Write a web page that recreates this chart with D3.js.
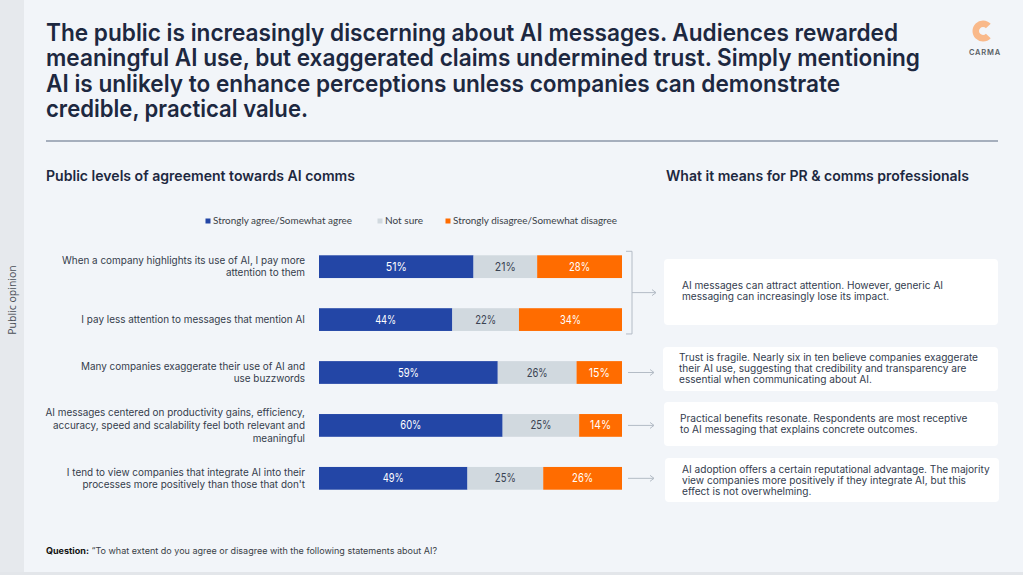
<!DOCTYPE html>
<html><head><meta charset="utf-8">
<script src="https://cdn.jsdelivr.net/npm/d3@7"></script>
<style>
html,body{margin:0;padding:0;background:#f2f5f9;}
svg{display:block;}
</style></head>
<body>
<svg id="chart" width="1023" height="575"></svg>
<script>
// ---- data ----
const titleLines = [
  "The public is increasingly discerning about AI messages. Audiences rewarded",
  "meaningful AI use, but exaggerated claims undermined trust. Simply mentioning",
  "AI is unlikely to enhance perceptions unless companies can demonstrate",
  "credible, practical value."
];
const categories = [
  ["When a company highlights its use of AI, I pay more", "attention to them"],
  ["I pay less attention to messages that mention AI"],
  ["Many companies exaggerate their use of AI and", "use buzzwords"],
  ["AI messages centered on productivity gains, efficiency,", "accuracy, speed and scalability feel both relevant and", "meaningful"],
  ["I tend to view companies that integrate AI into their", "processes more positively than those that don't"]
];
const seriesNames = ["Strongly agree/Somewhat agree", "Not sure", "Strongly disagree/Somewhat disagree"];
const agree    = [51, 44, 59, 60, 49];
const notSure  = [21, 22, 26, 25, 25];
const disagree = [28, 34, 15, 14, 26];
const insights = [
  ["AI messages can attract attention. However, generic AI", "messaging can increasingly lose its impact."],
  ["Trust is fragile. Nearly six in ten believe companies exaggerate", "their AI use, suggesting that credibility and transparency are", "essential when communicating about AI."],
  ["Practical benefits resonate. Respondents are most receptive", "to AI messaging that explains concrete outcomes."],
  ["AI adoption offers a certain reputational advantage. The majority", "view companies more positively if they integrate AI, but this", "effect is not overwhelming."]
];

// ---- setup ----
const svg = d3.select("#chart");
const W = 1023, H = 575;
const colors = ["#2346a6", "#d1d9df", "#ff6c00"];
const labelColors = ["#ffffff", "#3a4352", "#ffffff"];
const navy = "#1d2840";
const sans = "Inter, 'Noto Sans', sans-serif";

function squeeze(sel, sx) {
  sel.each(function () {
    const w = this.getComputedTextLength();
    d3.select(this).attr("textLength", w * sx).attr("lengthAdjust", "spacingAndGlyphs");
  });
}

// background
svg.append("rect").attr("width", W).attr("height", H).attr("fill", "#f2f5f9");
svg.append("rect").attr("width", 24).attr("height", H).attr("fill", "#e6e9ed");
svg.append("rect").attr("x", 0).attr("y", 572).attr("width", W).attr("height", 3).attr("fill", "#e3e6ea");

// title
const title = svg.append("g").selectAll("text").data(titleLines).join("text")
  .attr("x", 46).attr("y", (d, i) => 41 + i * 25.3)
  .attr("font-family", sans).attr("font-size", 24).attr("font-weight", 600)
  .attr("fill", navy).text(d => d);
const titleTargets = [852, 874, 794, 262];
title.each(function (d, i) {
  d3.select(this).attr("textLength", titleTargets[i]).attr("lengthAdjust", "spacingAndGlyphs");
});

// logo
const logo = svg.append("g");
logo.append("path")
  .attr("d", d3.arc()({innerRadius: 4, outerRadius: 10.5, startAngle: Math.PI * 0.5 + 0.75, endAngle: Math.PI * 2.5 - 0.75}))
  .attr("transform", "translate(983,31)")
  .attr("fill", "#f9b98a");
logo.append("text").attr("x", 985).attr("y", 55).attr("text-anchor", "middle")
  .attr("font-family", sans).attr("font-size", 7.5).attr("font-weight", 600)
  .attr("letter-spacing", 0.8).attr("fill", "#5a5f66").text("CARMA");

// rule
svg.append("line").attr("x1", 46).attr("x2", 998).attr("y1", 141).attr("y2", 141)
  .attr("stroke", "#8c97a8").attr("stroke-width", 1.6);

// section headers
svg.append("text").attr("x", 46).attr("y", 181)
  .attr("font-family", sans).attr("font-size", 14).attr("font-weight", 600).attr("fill", navy)
  .text("Public levels of agreement towards AI comms")
  .attr("textLength", 309).attr("lengthAdjust", "spacingAndGlyphs");
svg.append("text").attr("x", 666).attr("y", 181)
  .attr("font-family", sans).attr("font-size", 14).attr("font-weight", 600).attr("fill", navy)
  .text("What it means for PR & comms professionals")
  .attr("textLength", 303).attr("lengthAdjust", "spacingAndGlyphs");

// side label
svg.append("text").attr("transform", "translate(16,300) rotate(-90)")
  .attr("text-anchor", "middle").attr("font-family", "'Open Sans', sans-serif")
  .attr("font-size", 10.5).attr("fill", "#4a4f57").text("Public opinion");

// legend
const legendX = [205.5, 377.5, 445.5];
const legendTargets = [139, 38, 164];
const lg = svg.append("g").selectAll("g").data(seriesNames).join("g")
  .attr("transform", (d, i) => `translate(${legendX[i]},218.5)`);
lg.append("rect").attr("width", 5).attr("height", 5).attr("fill", (d, i) => colors[i]);
lg.append("text").attr("x", 7.5).attr("y", 5).attr("font-family", "Lato, 'Open Sans', sans-serif")
  .attr("font-size", 9).attr("fill", "#3a3f47").text(d => d)
  .each(function (d, i) { d3.select(this).attr("textLength", legendTargets[i]).attr("lengthAdjust", "spacingAndGlyphs"); });

// scales
const rows = d3.range(categories.length);
const y = d3.scaleBand().domain(rows).range([241, 504]).paddingInner(0.57).paddingOuter(0.27);
const barX0 = 319, barX1 = 622;

const stackData = rows.map(i => {
  const vals = [agree[i], notSure[i], disagree[i]];
  const total = d3.sum(vals);
  const x = d3.scaleLinear().domain([0, total]).range([barX0, barX1]);
  let acc = 0;
  return vals.map((v, k) => { const s = {row: i, k, v, x0: x(acc), x1: x(acc + v)}; acc += v; return s; });
});

const bars = svg.append("g");
stackData.forEach(segs => {
  const g = bars.append("g");
  g.selectAll("rect").data(segs).join("rect")
    .attr("x", d => d.x0).attr("width", d => d.x1 - d.x0)
    .attr("y", d => y(d.row)).attr("height", y.bandwidth())
    .attr("fill", d => colors[d.k]);
  g.selectAll("text").data(segs).join("text")
    .attr("x", d => (d.x0 + d.x1) / 2).attr("y", d => y(d.row) + y.bandwidth() / 2 + 4)
    .attr("text-anchor", "middle").attr("font-family", sans).attr("font-size", 11.5)
    .attr("fill", d => labelColors[d.k]).text(d => d.v + "%")
    .attr("textLength", 21).attr("lengthAdjust", "spacingAndGlyphs");
});

// category labels
const lab = svg.append("g");
const labLines = [];
categories.forEach((lines, i) => {
  const cy = y(i) + y.bandwidth() / 2;
  const lh = 12.6;
  lines.forEach((ln, j) => {
    const t = lab.append("text").attr("x", 305)
      .attr("y", cy + (j - (lines.length - 1) / 2) * lh + 3.5)
      .attr("text-anchor", "end").attr("font-family", sans).attr("font-size", 10.5)
      .attr("fill", "#343c4b").text(ln);
    labLines.push(t.node());
  });
});
const sxLab = 243 / labLines[0].getComputedTextLength();
squeeze(d3.selectAll(labLines), sxLab);

// connectors
const conn = svg.append("g").attr("stroke", "#b4bcc6").attr("fill", "none").attr("stroke-width", 1);
const arrowTip = (x, yy) => `M${x - 4},${yy - 3}L${x},${yy}L${x - 4},${yy + 3}`;
const bTop = y(0) - 4, bBot = y(1) + y.bandwidth() + 3, bMid = (bTop + bBot) / 2;
conn.append("path").attr("d", `M626,${bTop}H632V${bBot}H626`);
conn.append("path").attr("d", `M632,${bMid}H656`);
conn.append("path").attr("d", arrowTip(656, bMid));
[2, 3, 4].forEach(i => {
  const cy = y(i) + y.bandwidth() / 2;
  conn.append("path").attr("d", `M628,${cy}H654`);
  conn.append("path").attr("d", arrowTip(654, cy));
});

// insight boxes
const boxes = [
  {x: 664, y: 259, w: 334, h: 66, tx: 682, ty: 285},
  {x: 663, y: 347, w: 335, h: 44, tx: 679, ty: 357},
  {x: 664, y: 402, w: 334, h: 44, tx: 680, ty: 418},
  {x: 665, y: 458, w: 334, h: 44, tx: 682, ty: 469}
];
const boxLines = [];
const bg = svg.append("g");
insights.forEach((lines, i) => {
  const b = boxes[i];
  bg.append("rect").attr("x", b.x).attr("y", b.y).attr("width", b.w).attr("height", b.h)
    .attr("rx", 4).attr("fill", "#ffffff");
  lines.forEach((ln, j) => {
    const t = bg.append("text").attr("x", b.tx).attr("y", b.ty + j * 11 + 3.5)
      .attr("font-family", sans).attr("font-size", 9.8).attr("fill", "#333c4e").text(ln);
    boxLines.push(t.node());
  });
});
const sxBox = 299 / boxLines[2].getComputedTextLength();
squeeze(d3.selectAll(boxLines), sxBox);

// question footnote
const q = svg.append("text").attr("x", 46).attr("y", 554)
  .attr("font-family", sans).attr("font-size", 8.5).attr("fill", "#3a3f47");
q.append("tspan").attr("font-weight", 700).attr("fill", "#111").text("Question:");
q.append("tspan").text(" \u201CTo what extent do you agree or disagree with the following statements about AI?");
q.attr("textLength", 391).attr("lengthAdjust", "spacingAndGlyphs");
</script>
</body></html>
